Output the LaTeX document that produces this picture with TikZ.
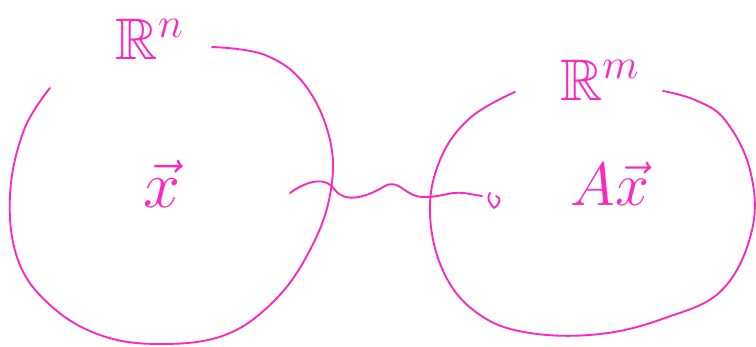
\documentclass[tikz,border=0pt]{standalone}
\usepackage{amssymb}
\usepackage{graphicx}
\definecolor{pen}{RGB}{250,40,190}
\begin{document}
\begin{tikzpicture}[x=0.75pt,y=-0.75pt,
  stroke/.style={draw=pen,line width=1.4pt,line cap=round,line join=round},
  lbl/.style={text=pen,inner sep=0pt,font=\fontsize{20}{24}\selectfont}]
\useasboundingbox (0,0) rectangle (756,346);
% left set
\draw[stroke] plot[smooth,tension=0.65] coordinates {(50,88) (24,130) (10,195) (18,260) (50,305) (100,335) (160,344) (225,335) (275,300) (310,250) (330,195) (330,140) (305,85) (265,55) (212,47)};
% right set
\draw[stroke] plot[smooth,tension=0.65] coordinates {(515,92) (470,118) (440,160) (430,215) (445,275) (480,315) (530,333) (600,334) (665,318) (722,290) (752,230) (750,170) (725,120) (695,100) (663,91)};
% labels
\node[lbl] (Rn) at (150,39) {\scalebox{2.2}{$\mathbb{R}^{n}$}};
\node[lbl] (Rm) at (600,80) {\scalebox{2.2}{$\mathbb{R}^{m}$}};
\node[lbl] (x) at (162,184) {\scalebox{2.4}{$\vec{x}$}};
\node[lbl] (Ax) at (610,184) {\scalebox{2.2}{$A\vec{x}$}};
% wavy map
\coordinate (s) at (290,193);
\coordinate (e) at (482,196);
\draw[stroke] (s) .. controls (305,182) and (325,175) .. (335,190)
  .. controls (345,203) and (365,198) .. (385,186)
  .. controls (400,178) and (405,198) .. (425,197)
  .. controls (445,197) and (450,190) .. (470,194) -- (e);
\draw[stroke] (490,193) .. controls (486,198) and (490,204) .. (494,208)
  .. controls (500,204) and (502,198) .. (496,196);
\end{tikzpicture}
\end{document}
